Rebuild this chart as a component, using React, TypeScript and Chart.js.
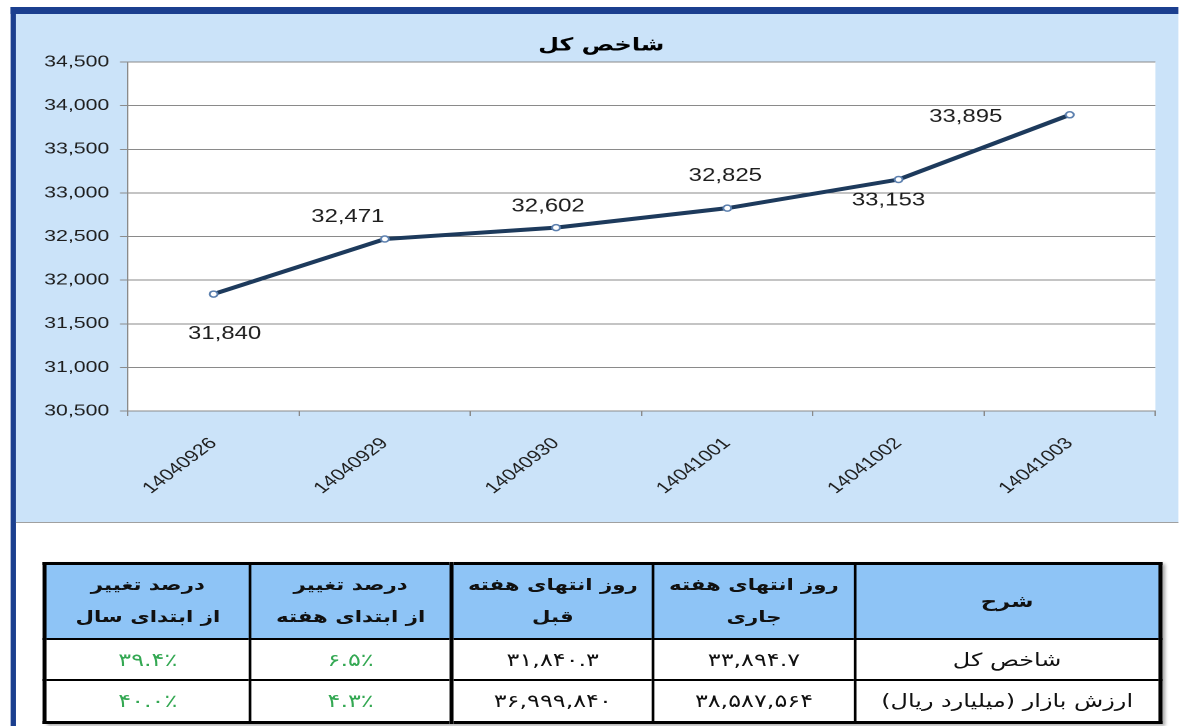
import React, { useEffect, useRef } from 'react';
import { Chart, registerables } from 'chart.js';

Chart.register(...registerables);

// ---------- data ----------
const categories = ['14040926', '14040929', '14040930', '14041001', '14041002', '14041003'];
const indexValues = [31840, 32471, 32602, 32825, 33153, 33895];
const yMin = 30500;
const yMax = 34500;
const yStep = 500;
const chartTitle = 'شاخص کل';

const headerLines = [
  ['شرح'],
  ['روز انتهای هفته', 'جاری'],
  ['روز انتهای هفته', 'قبل'],
  ['درصد تغییر', 'از ابتدای هفته'],
  ['درصد تغییر', 'از ابتدای سال'],
];
const rowLabels = ['شاخص کل', 'ارزش بازار (میلیارد ریال)'];
const currentWeek = ['۳۳,۸۹۴.۷', '۳۸,۵۸۷,۵۶۴'];
const previousWeek = ['۳۱,۸۴۰.۳', '۳۶,۹۹۹,۸۴۰'];
const weekChange = ['۶.۵٪', '۴.۳٪'];
const yearChange = ['۳۹.۴٪', '۴۰.۰٪'];

// ---------- layout / style ----------
const S = 1.33; // horizontal stretch of the whole picture
const PAGE_W = 1179;
const DW = PAGE_W / S;
const dx = (px: number) => px / S;
// label offsets from their point, in page pixels [dx, dy]
const labelOffsets: [number, number][] = [
  [11, 40],
  [-37, -22],
  [-8, -21],
  [-2, -32],
  [-10, 21],
  [-104, 2],
];
const GRID = '#8a8a8a';
const TXT = '#1e1e1e';
const LATIN = '"Liberation Sans", Arial, sans-serif';
const PERSIAN = '"DejaVu Sans", sans-serif';

function LineChart() {
  const ref = useRef<HTMLCanvasElement>(null);
  useEffect(() => {
    const canvas = ref.current;
    if (!canvas) return;
    const plotBg = {
      id: 'plotBg',
      beforeDraw(chart: any) {
        const { ctx, chartArea } = chart;
        ctx.save();
        ctx.fillStyle = '#ffffff';
        ctx.fillRect(chartArea.left, chartArea.top, chartArea.right - chartArea.left, chartArea.bottom - chartArea.top);
        ctx.restore();
      },
    };
    const titlePlugin = {
      id: 'customTitle',
      afterDraw(chart: any) {
        const ctx = chart.ctx;
        ctx.save();
        ctx.font = `bold 18px ${PERSIAN}`;
        ctx.fillStyle = '#000000';
        ctx.textAlign = 'center';
        ctx.textBaseline = 'middle';
        ctx.direction = 'rtl';
        ctx.fillText(chartTitle, chart.width / 2 + dx(4), 32);
        ctx.restore();
      },
    };
    const pointLabels = {
      id: 'pointLabels',
      afterDatasetsDraw(chart: any) {
        const ctx = chart.ctx;
        const meta = chart.getDatasetMeta(0);
        ctx.save();
        ctx.font = `18px ${LATIN}`;
        ctx.fillStyle = TXT;
        ctx.textAlign = 'center';
        ctx.textBaseline = 'middle';
        meta.data.forEach((pt: any, i: number) => {
          const [ox, oy] = labelOffsets[i];
          ctx.fillText(indexValues[i].toLocaleString('en-US'), pt.x + ox / S, pt.y + oy);
        });
        ctx.restore();
      },
    };
    const chart = new Chart(canvas, {
      type: 'line',
      data: {
        labels: categories,
        datasets: [
          {
            data: indexValues,
            borderColor: '#1d3a5c',
            borderWidth: 4,
            pointRadius: 3,
            pointBackgroundColor: '#ffffff',
            pointBorderColor: '#5b7fae',
            pointBorderWidth: 1.5,
            tension: 0,
          },
        ],
      },
      options: {
        responsive: false,
        animation: false,
        devicePixelRatio: 2,
        layout: { padding: { left: 0, right: dx(23), top: 48, bottom: 0 } },
        plugins: {
          legend: { display: false },
          tooltip: { enabled: false },
          title: { display: false },
        },
        scales: {
          x: {
            type: 'category',
            offset: true,
            grid: { display: true, drawOnChartArea: false, drawTicks: true, tickLength: 5, color: GRID, offset: true },
            border: { display: true, color: GRID },
            ticks: {
              minRotation: 45,
              maxRotation: 45,
              autoSkip: false,
              padding: 18,
              color: TXT,
              font: { family: LATIN, size: 16 },
            },
            afterFit(scale: any) {
              scale.height = 111;
            },
          },
          y: {
            min: yMin,
            max: yMax,
            ticks: { stepSize: yStep, padding: 8, color: TXT, font: { family: LATIN, size: 16 } },
            grid: { color: GRID, tickLength: dx(8), lineWidth: 1 },
            border: { display: true, color: GRID },
            afterFit(scale: any) {
              scale.width = dx(112);
            },
          },
        },
      },
      plugins: [plotBg, pointLabels, titlePlugin],
    } as any);
    return () => chart.destroy();
  }, []);
  return <canvas ref={ref} width={Math.round(dx(1163))} height={508} />;
}

const cellBase: React.CSSProperties = {
  textAlign: 'center',
  verticalAlign: 'middle',
  padding: 0,
  borderLeft: '2px solid #000',
  borderRight: '2px solid #000',
  borderTop: '2px solid #000',
  borderBottom: '2px solid #000',
};

function DataTable() {
  const colWidths = [305, 202, 201, 202, 205].map(dx);
  const rows = rowLabels.map((label, i) => [label, currentWeek[i], previousWeek[i], weekChange[i], yearChange[i]]);
  const thick = (ci: number): React.CSSProperties => (ci === 2 ? { borderLeft: '3px solid #000' } : ci === 3 ? { borderRight: '3px solid #000' } : {});
  return (
    <table
      dir="rtl"
      style={{
        position: 'absolute',
        left: dx(43),
        top: 562,
        width: dx(1117),
        borderCollapse: 'collapse',
        border: '3px solid #000',
        tableLayout: 'fixed',
        fontFamily: PERSIAN,
        boxShadow: '3px 2px 3px rgba(0,0,0,0.35)',
      }}
    >
      <colgroup>
        {colWidths.map((w, i) => (
          <col key={i} style={{ width: w }} />
        ))}
      </colgroup>
      <tbody>
        <tr style={{ height: 75 }}>
          {headerLines.map((lines, ci) => (
            <td
              key={ci}
              style={{ ...cellBase, ...thick(ci), background: '#8ec4f6', fontWeight: 'bold', fontSize: ci === 0 ? 17 : 16, lineHeight: '32px', color: '#111' }}
            >
              {lines.map((l, k) => (
                <div key={k}>{l}</div>
              ))}
            </td>
          ))}
        </tr>
        {rows.map((r, ri) => (
          <tr key={ri} style={{ height: ri === 0 ? 41 : 43 }}>
            {r.map((v, ci) => (
              <td
                key={ci}
                style={{
                  ...cellBase,
                  ...thick(ci),
                  fontSize: 18,
                  color: ci >= 3 ? '#34a853' : '#111',
                  background: '#fff',
                }}
              >
                {v}
              </td>
            ))}
          </tr>
        ))}
      </tbody>
    </table>
  );
}

export default function App() {
  return (
    <div style={{ position: 'absolute', left: 0, top: 0, width: PAGE_W, height: 726, overflow: 'hidden', background: '#fff' }}>
      <div style={{ position: 'absolute', left: 0, top: 0, width: DW, height: 726, transform: `scaleX(${S})`, transformOrigin: '0 0' }}>
        <div
          style={{
            position: 'absolute',
            left: dx(10),
            top: 7,
            width: DW - dx(10),
            height: 726,
            boxSizing: 'border-box',
            borderLeft: `${dx(6)}px solid #1b3f8f`,
            borderTop: '7px solid #1b3f8f',
          }}
        />
        <div
          style={{
            position: 'absolute',
            left: dx(16),
            top: 14,
            width: dx(1163),
            height: 508,
            background: '#cbe3f9',
            borderBottom: '1px solid #a0a0a0',
          }}
        >
          <LineChart />
        </div>
        <DataTable />
      </div>
    </div>
  );
}
